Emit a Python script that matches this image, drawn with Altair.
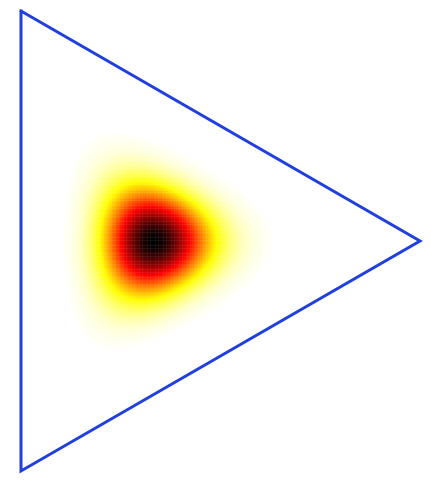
import numpy as np
import pandas as pd
import altair as alt

# Dirichlet concentration parameters of the plotted density (symmetric, peak at centroid)
alpha = [10.0, 10.0, 10.0]

# simplex vertices in the plane (top, right, bottom); the triangle points right
H = np.sqrt(3) / 2
vertex_names = ["top", "right", "bottom", "top"]
vertex_u = [0.0, H, 0.0, 0.0]
vertex_v = [1.0, 0.5, 0.0, 1.0]

# colour stops (reversed "hot" colormap)
stop_values = [0.0, 0.254, 0.635, 1.0]
stop_colors = ["#ffffff", "#ffff00", "#ff0000", "#000000"]

# grid for evaluating the density
step_u = 1.6 / 460.7
step_v = 1.6 / 460.0

us = np.arange(step_u / 2, H, step_u)
vs = np.arange(step_v / 2, 1.0, step_v)
U, V = np.meshgrid(us, vs)
bB = U / H
bA = V - 0.5 * bB
bC = 1.0 - bA - bB
inside = (bA > 0) & (bB > 0) & (bC > 0)
U, V, bA, bB, bC = U[inside], V[inside], bA[inside], bB[inside], bC[inside]
logp = (alpha[0] - 1) * np.log(bA) + (alpha[1] - 1) * np.log(bB) + (alpha[2] - 1) * np.log(bC)
dens = np.exp(logp - logp.max())
keep = dens > 0.008

eu = step_u * 0.62
ev = step_v * 0.62
grid = pd.DataFrame({
    "u": U[keep] - eu, "u2": U[keep] + eu,
    "v": V[keep] - ev, "v2": V[keep] + ev,
    "density": dens[keep],
})

tri = pd.DataFrame({"name": vertex_names, "u": vertex_u, "v": vertex_v,
                    "order": list(range(len(vertex_names)))})

xs = alt.Scale(domain=[-0.02822, 0.87258], nice=False, zero=False)
ys = alt.Scale(domain=[-0.00652, 1.00652], nice=False, zero=False)

heat = alt.Chart(grid).mark_rect(strokeWidth=0).encode(
    x=alt.X("u:Q", scale=xs, axis=None),
    x2="u2:Q",
    y=alt.Y("v:Q", scale=ys, axis=None),
    y2="v2:Q",
    color=alt.Color("density:Q", legend=None,
                    scale=alt.Scale(domain=stop_values, range=stop_colors, interpolate="rgb")),
)

outline = alt.Chart(tri).mark_line(color="#1f3fdf", strokeWidth=3, strokeJoin="miter",
                                   strokeCap="square").encode(
    x=alt.X("u:Q", scale=xs, axis=None),
    y=alt.Y("v:Q", scale=ys, axis=None),
    order="order:Q",
)

chart = alt.layer(heat, outline).properties(
    width=415, height=466, padding=0,
    autosize=alt.AutoSizeParams(type="none"),
    background="white",
).configure_view(stroke=None)

chart.save("out.html", embed_options={"renderer": "svg", "actions": False})
